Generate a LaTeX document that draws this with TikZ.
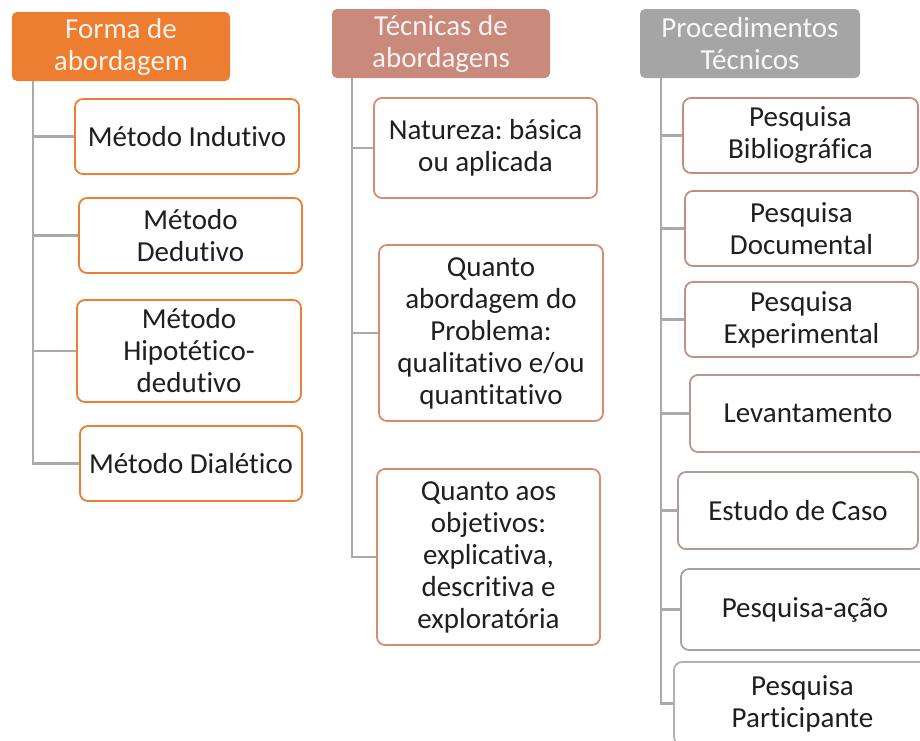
\documentclass[tikz,border=0pt]{standalone}
\usepackage{fontspec}
\setmainfont{Carlito}[Ligatures=NoCommon]
\usetikzlibrary{calc}
\frenchspacing
\definecolor{fa_orange}{RGB}{237, 125, 49}
\definecolor{ta_salmon}{RGB}{201, 137, 123}
\definecolor{ta_line}{RGB}{216, 139, 115}
\definecolor{pt_gray}{RGB}{165, 165, 165}
\definecolor{tr_gray}{RGB}{170, 170, 170}
\tikzstyle{hd}=[rectangle,rounded corners=5pt,inner sep=0pt,align=center,
  font=\fontsize{29}{32}\selectfont]
\tikzstyle{bx}=[rectangle,rounded corners=8pt,fill=white,line width=1.8pt,
  inner sep=0pt,align=center,text=black!88,font=\fontsize{29}{32}\selectfont]
\tikzstyle{tr}=[draw=tr_gray,line width=2.5pt]

\begin{document}
\begin{tikzpicture}[x=1pt,y=-1pt]
        \useasboundingbox (0,0) rectangle (920,740);
        % Forma de abordagem
        \node[style=hd,fill=fa_orange,text=fa_orange!10!white,minimum width=218pt,minimum height=69pt] (0) at (121,46.5) {Forma de\\abordagem};
        \node[style=bx,draw=fa_orange,minimum width=224pt,minimum height=75pt] (1) at (187,136.5) {Método Indutivo};
        \node[style=bx,draw=fa_orange,minimum width=223pt,minimum height=75pt] (2) at (190.5,235.5) {Método\\Dedutivo};
        \node[style=bx,draw=fa_orange,minimum width=224pt,minimum height=102pt] (3) at (189,351) {Método\\Hipotético-\\dedutivo};
        \node[style=bx,draw=fa_orange,minimum width=222pt,minimum height=75pt] (4) at (191,463.5) {Método Dialético};
        % Tecnicas de abordagens
        \node[style=hd,fill=ta_salmon,text=ta_salmon!10!white,minimum width=218pt,minimum height=69pt] (5) at (441,43.5) {Técnicas de\\abordagens};
        \node[style=bx,draw=ta_line,minimum width=223pt,minimum height=100pt] (6) at (485.5,148) {Natureza: básica\\ou aplicada};
        \node[style=bx,draw=ta_line,minimum width=224pt,minimum height=176pt] (7) at (491,333) {Quanto\\abordagem do\\Problema:\\qualitativo e/ou\\quantitativo};
        \node[style=bx,draw=ta_line,minimum width=223pt,minimum height=176pt] (8) at (488.5,557) {Quanto aos\\objetivos:\\explicativa,\\descritiva e\\exploratória};
        % Procedimentos Tecnicos
        \node[style=hd,fill=pt_gray,text=white!92!pt_gray,minimum width=220pt,minimum height=69pt] (9) at (750,43.5) {Procedimentos\\Técnicos};
        \node[style=bx,draw=ta_salmon!95!pt_gray,minimum width=235pt,minimum height=75pt] (10) at (800.5,135.5) {Pesquisa\\Bibliográfica};
        \node[style=bx,draw=ta_salmon!85!pt_gray,minimum width=233pt,minimum height=75pt] (11) at (801.5,228.5) {Pesquisa\\Documental};
        \node[style=bx,draw=ta_salmon!72!pt_gray,minimum width=233pt,minimum height=75pt] (12) at (801.5,319.5) {Pesquisa\\Experimental};
        \node[style=bx,draw=ta_salmon!55!pt_gray,minimum width=236pt,minimum height=77pt] (13) at (808,413.5) {Levantamento};
        \node[style=bx,draw=ta_salmon!40!pt_gray,minimum width=240pt,minimum height=77pt] (14) at (798,510.5) {Estudo de Caso};
        \node[style=bx,draw=ta_salmon!22!pt_gray,minimum width=248pt,minimum height=81pt] (15) at (805,609.5) {Pesquisa-ação};
        \node[style=bx,draw=pt_gray!85!white,minimum width=257pt,minimum height=83pt] (16) at (802.5,703.5) {Pesquisa\\Participante};
        % trunks
        \coordinate (a) at (33,81);
        \coordinate (b) at (352,78);
        \coordinate (c) at (661,78);
        \foreach \n in {1,2,3,4} \draw[style=tr] (a) |- (\n);
        \foreach \n in {6,7,8} \draw[style=tr] (b) |- (\n);
        \foreach \n in {10,11,12,13,14,15,16} \draw[style=tr] (c) |- (\n);
    \end{tikzpicture}
\end{document}
